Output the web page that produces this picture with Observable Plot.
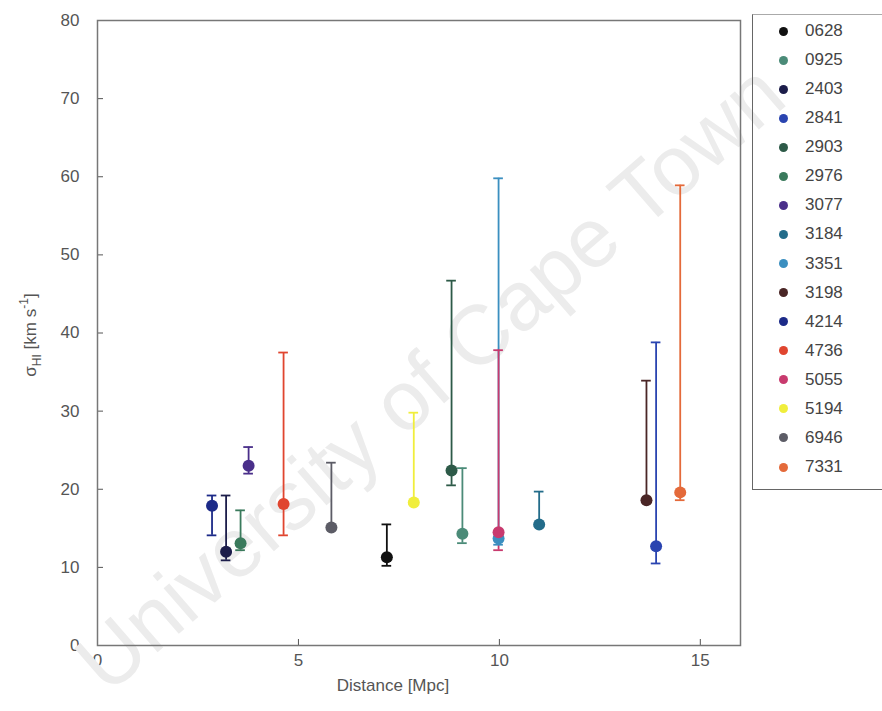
<!DOCTYPE html>
<html><head><meta charset="utf-8">
<script src="https://cdn.jsdelivr.net/npm/d3@7"></script>
<script src="https://cdn.jsdelivr.net/npm/@observablehq/plot@0.6"></script>
<style>
body{margin:0;background:#fff;font-family:"Liberation Sans",Arial,sans-serif}
#wrap{position:relative;width:882px;height:711px;overflow:hidden}
#legend{position:absolute;left:752px;top:14px;width:140px;height:476px;border-left:1.5px solid #666;border-bottom:1.5px solid #666;border-top:1px solid #aaa;box-sizing:border-box}
.row{position:absolute;left:0;height:29px;display:flex;align-items:center;font-size:17px;color:#444}
.dot{width:9px;height:9px;border-radius:50%;margin-left:26px;margin-right:17px}
</style></head>
<body><div id="wrap"></div>
<script>
// Galaxy IDs (legend order)
const galaxies = ["0628","0925","2403","2841","2903","2976","3077","3184","3351","3198","4214","4736","5055","5194","6946","7331"];
const colors   = ["#111111","#4b8b78","#1c1d4a","#2a44b0","#2d5a48","#3a7a5c","#4a2f8a","#236c8a","#3b8fc0","#4a2626","#1c2a88","#e0452f","#c83a6e","#f0ee3c","#5c5c66","#e46a3a"];
// Distance [Mpc] and sigma_HI [km/s] with error range
const distance = [7.2, 9.08, 3.2, 13.9, 8.81, 3.56, 3.76, 10.99, 9.98, 13.66, 2.85, 4.63, 9.98, 7.87, 5.82, 14.5];
const sigma    = [11.3, 14.3, 12.0, 12.7, 22.4, 13.1, 23.0, 15.5, 13.7, 18.6, 17.9, 18.1, 14.5, 18.3, 15.1, 19.6];
const errLow   = [10.2, 13.1, 10.9, 10.5, 20.5, 12.2, 22.0, 15.3, 12.9, 18.4, 14.1, 14.1, 12.2, 18.1, 15.0, 18.6];
const errHigh  = [15.5, 22.7, 19.2, 38.8, 46.7, 17.3, 25.4, 19.7, 59.8, 33.9, 19.2, 37.5, 37.8, 29.8, 23.4, 58.9];
// draw order (so pink 5055 sits over light blue 3351)
const drawOrder = [8,0,1,2,3,4,5,6,7,9,10,11,12,13,14,15];
const xTicks = [0,5,10,15];
const yTicks = [0,10,20,30,40,50,60,70,80];

const data = drawOrder.map(i => ({id: galaxies[i], color: colors[i], x: distance[i], y: sigma[i], lo: errLow[i], hi: errHigh[i]}));
const capW = 0.12;

const chart = Plot.plot({
  width: 882, height: 711,
  marginLeft: 97, marginRight: 142, marginTop: 20, marginBottom: 66,
  style: {fontFamily: '"Liberation Sans", Arial, sans-serif', fontSize: "17px", color: "#555", background: "#fff"},
  x: {domain: [0, 16], ticks: xTicks, tickSize: -6, tickPadding: 14, label: null},
  y: {domain: [0, 80], ticks: yTicks, tickSize: -6, tickPadding: 24, label: null},
  marks: [
    Plot.text(["University of Cape Town"], {frameAnchor: "middle", dx: 12, dy: 46, rotate: -41, fontSize: 84, fill: "#ececec", fontWeight: "normal"}),
    Plot.frame({stroke: "#777", strokeWidth: 1.5}),
    Plot.ruleX(data, {x: "x", y1: "lo", y2: "hi", stroke: "color", strokeWidth: 1.8}),
    Plot.ruleY(data, {y: "hi", x1: d => d.x - capW, x2: d => d.x + capW, stroke: "color", strokeWidth: 1.8}),
    Plot.ruleY(data, {y: "lo", x1: d => d.x - capW, x2: d => d.x + capW, stroke: "color", strokeWidth: 1.8}),
    Plot.dot(data, {x: "x", y: "y", fill: "color", r: 6}),
    Plot.text(["Distance [Mpc]"], {frameAnchor: "bottom", dx: -26, dy: 45, fontSize: 17, fill: "#555"})
  ]
});
document.getElementById("wrap").appendChild(chart);

// y-axis label with sub/superscript
const svg = d3.select(chart);
const yl = svg.append("text")
  .attr("transform", "translate(36,335) rotate(-90)")
  .attr("text-anchor", "middle")
  .attr("font-size", 17).attr("fill", "#555");
yl.append("tspan").text("σ");
yl.append("tspan").attr("font-size", 12).attr("dy", 5).text("HI");
yl.append("tspan").attr("dy", -5).text(" [km s");
yl.append("tspan").attr("font-size", 12).attr("dy", -8).text("-1");
yl.append("tspan").attr("dy", 8).text("]");

// legend
const leg = document.createElement("div");
leg.id = "legend";
galaxies.forEach((g, i) => {
  const row = document.createElement("div");
  row.className = "row";
  row.style.top = (1.5 + i * 29.07) + "px";
  const dot = document.createElement("span");
  dot.className = "dot"; dot.style.background = colors[i];
  const t = document.createElement("span"); t.textContent = g;
  row.appendChild(dot); row.appendChild(t);
  leg.appendChild(row);
});
document.getElementById("wrap").appendChild(leg);
</script>
</body></html>
